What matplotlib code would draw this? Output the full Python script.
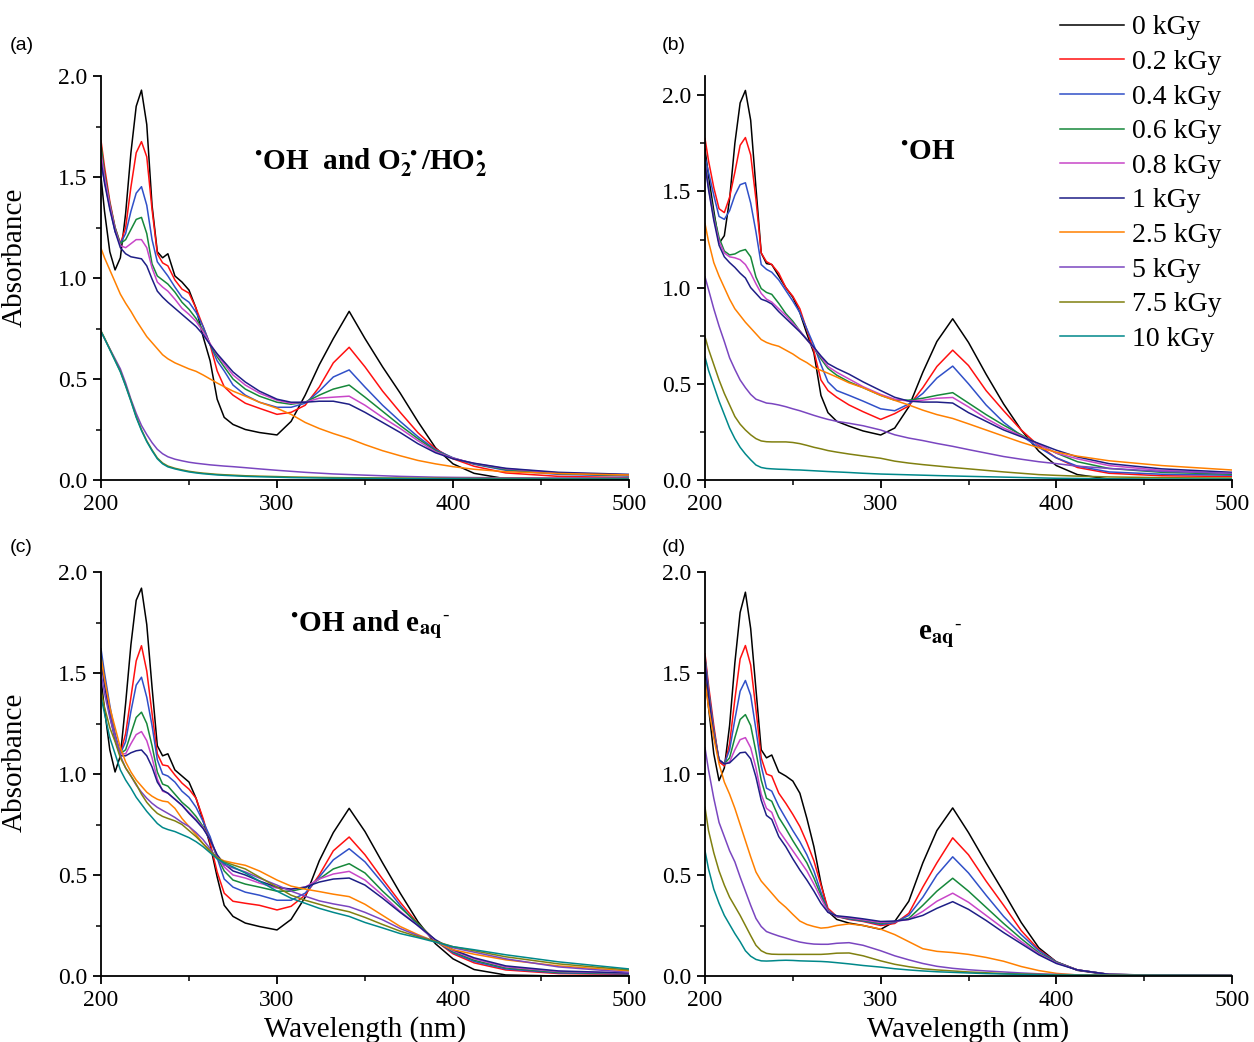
import matplotlib.pyplot as plt
from matplotlib.ticker import MultipleLocator

plt.rcParams['font.family'] = 'Liberation Serif'
plt.rcParams['mathtext.fontset'] = 'stix'

# wavelength grid (nm) shared by all curves
wavelength = [200, 202, 205, 208, 211, 214, 217, 220, 223, 226, 229, 232, 235, 238, 242,
              246, 250, 254, 258, 262, 266, 270, 275, 282, 290, 300, 308, 316, 324, 332,
              341, 350, 360, 370, 380, 390, 400, 412, 430, 460, 500]

doses = ['0 kGy', '0.2 kGy', '0.4 kGy', '0.6 kGy', '0.8 kGy', '1 kGy',
         '2.5 kGy', '5 kGy', '7.5 kGy', '10 kGy']
colors = ['#000000', '#ff1010', '#3050c8', '#16883a', '#c846c8', '#1e1e86',
          '#ff8000', '#7a46c0', '#808010', '#00888a']

# (a) OH and O2-/HO2
a_0 = [1.50, 1.33, 1.13, 1.04, 1.10, 1.32, 1.62, 1.85, 1.93, 1.76, 1.36, 1.13, 1.10, 1.12, 1.01,
       0.98, 0.94, 0.85, 0.71, 0.59, 0.40, 0.31, 0.275, 0.25, 0.235, 0.223, 0.29, 0.42, 0.57, 0.70,
       0.835, 0.70, 0.56, 0.43, 0.29, 0.16, 0.08, 0.033, 0.006, 0.0, 0.0]
a_02 = [1.68, 1.55, 1.38, 1.25, 1.17, 1.25, 1.45, 1.62, 1.675, 1.60, 1.34, 1.12, 1.075, 1.06, 0.99,
        0.945, 0.925, 0.85, 0.76, 0.67, 0.54, 0.462, 0.42, 0.38, 0.355, 0.325, 0.335, 0.37, 0.46, 0.58,
        0.657, 0.56, 0.44, 0.335, 0.235, 0.155, 0.105, 0.068, 0.035, 0.018, 0.012]
a_04 = [1.56, 1.48, 1.35, 1.23, 1.17, 1.22, 1.33, 1.42, 1.452, 1.36, 1.19, 1.08, 1.045, 1.01, 0.955,
        0.905, 0.88, 0.83, 0.76, 0.67, 0.59, 0.54, 0.47, 0.42, 0.385, 0.36, 0.36, 0.38, 0.44, 0.51,
        0.545, 0.46, 0.37, 0.29, 0.215, 0.15, 0.11, 0.078, 0.048, 0.028, 0.02]
a_06 = [1.66, 1.52, 1.37, 1.25, 1.17, 1.19, 1.24, 1.29, 1.30, 1.22, 1.07, 1.01, 0.99, 0.97, 0.93,
        0.88, 0.845, 0.80, 0.74, 0.67, 0.61, 0.56, 0.50, 0.45, 0.415, 0.385, 0.375, 0.385, 0.42, 0.45,
        0.47, 0.41, 0.34, 0.27, 0.205, 0.145, 0.108, 0.08, 0.052, 0.032, 0.022]
a_08 = [1.62, 1.50, 1.36, 1.24, 1.16, 1.15, 1.17, 1.19, 1.19, 1.15, 1.05, 0.98, 0.955, 0.935, 0.895,
        0.85, 0.82, 0.785, 0.735, 0.675, 0.62, 0.575, 0.52, 0.47, 0.43, 0.395, 0.38, 0.385, 0.405, 0.41,
        0.415, 0.37, 0.31, 0.255, 0.195, 0.14, 0.108, 0.082, 0.056, 0.035, 0.025]
a_1 = [1.58, 1.47, 1.34, 1.23, 1.15, 1.12, 1.105, 1.10, 1.095, 1.06, 0.995, 0.935, 0.905, 0.88, 0.85,
       0.82, 0.79, 0.76, 0.72, 0.67, 0.625, 0.585, 0.535, 0.485, 0.44, 0.40, 0.385, 0.385, 0.39, 0.39,
       0.375, 0.335, 0.285, 0.235, 0.18, 0.135, 0.105, 0.083, 0.058, 0.038, 0.028]
a_25 = [1.147, 1.10, 1.04, 0.98, 0.92, 0.875, 0.835, 0.79, 0.75, 0.71, 0.68, 0.65, 0.62, 0.60, 0.58,
        0.565, 0.55, 0.538, 0.52, 0.50, 0.48, 0.462, 0.44, 0.415, 0.385, 0.355, 0.325, 0.285, 0.255, 0.23,
        0.205, 0.175, 0.145, 0.12, 0.097, 0.08, 0.066, 0.053, 0.041, 0.032, 0.025]
a_5 = [0.735, 0.70, 0.65, 0.60, 0.55, 0.48, 0.40, 0.33, 0.27, 0.225, 0.185, 0.152, 0.13, 0.115, 0.103,
       0.095, 0.088, 0.083, 0.079, 0.075, 0.072, 0.069, 0.066, 0.061, 0.055, 0.048, 0.043, 0.038, 0.034, 0.03,
       0.027, 0.024, 0.021, 0.018, 0.016, 0.014, 0.013, 0.012, 0.011, 0.01, 0.01]
a_75 = [0.738, 0.703, 0.648, 0.593, 0.538, 0.468, 0.393, 0.314, 0.249, 0.194, 0.149, 0.109, 0.084, 0.069, 0.058,
        0.05, 0.043, 0.038, 0.034, 0.031, 0.028, 0.026, 0.024, 0.021, 0.019, 0.017, 0.015, 0.014, 0.013, 0.012,
        0.011, 0.011, 0.01, 0.01, 0.009, 0.009, 0.008, 0.008, 0.008, 0.007, 0.007]
a_10 = [0.735, 0.70, 0.645, 0.59, 0.535, 0.465, 0.39, 0.31, 0.245, 0.19, 0.145, 0.105, 0.08, 0.065, 0.055,
        0.047, 0.04, 0.035, 0.031, 0.028, 0.025, 0.023, 0.021, 0.018, 0.016, 0.014, 0.012, 0.011, 0.01, 0.009,
        0.009, 0.008, 0.008, 0.007, 0.007, 0.006, 0.006, 0.005, 0.005, 0.005, 0.005]

# (b) OH
b_0 = [1.72, 1.58, 1.40, 1.23, 1.27, 1.46, 1.75, 1.96, 2.025, 1.87, 1.52, 1.18, 1.125, 1.12, 1.06,
       1.0, 0.95, 0.87, 0.76, 0.66, 0.44, 0.35, 0.305, 0.28, 0.255, 0.234, 0.27, 0.38, 0.56, 0.72,
       0.838, 0.715, 0.55, 0.395, 0.26, 0.15, 0.075, 0.028, 0.005, 0.0, 0.0]
b_02 = [1.775, 1.66, 1.52, 1.41, 1.39, 1.47, 1.60, 1.74, 1.78, 1.69, 1.46, 1.18, 1.135, 1.12, 1.075,
        1.0, 0.955, 0.89, 0.78, 0.67, 0.52, 0.465, 0.43, 0.39, 0.355, 0.315, 0.345, 0.385, 0.48, 0.59,
        0.675, 0.595, 0.465, 0.36, 0.26, 0.178, 0.115, 0.065, 0.035, 0.022, 0.018]
b_04 = [1.68, 1.60, 1.48, 1.37, 1.355, 1.40, 1.48, 1.535, 1.545, 1.44, 1.29, 1.12, 1.095, 1.08, 1.04,
        0.985, 0.93, 0.87, 0.785, 0.70, 0.60, 0.51, 0.465, 0.44, 0.41, 0.37, 0.36, 0.395, 0.45, 0.53,
        0.592, 0.50, 0.39, 0.30, 0.23, 0.17, 0.115, 0.072, 0.042, 0.03, 0.025]
b_06 = [1.66, 1.53, 1.38, 1.26, 1.19, 1.17, 1.175, 1.19, 1.198, 1.16, 1.055, 0.995, 0.975, 0.965, 0.918,
        0.865, 0.825, 0.775, 0.73, 0.685, 0.63, 0.58, 0.545, 0.51, 0.48, 0.44, 0.415, 0.415, 0.425, 0.44,
        0.454, 0.40, 0.34, 0.285, 0.235, 0.185, 0.14, 0.095, 0.06, 0.04, 0.03]
b_08 = [1.65, 1.52, 1.36, 1.24, 1.18, 1.16, 1.155, 1.145, 1.12, 1.075, 1.02, 0.97, 0.94, 0.925, 0.89,
        0.855, 0.815, 0.775, 0.73, 0.685, 0.64, 0.59, 0.56, 0.525, 0.485, 0.445, 0.42, 0.41, 0.415, 0.425,
        0.429, 0.38, 0.32, 0.27, 0.23, 0.185, 0.14, 0.11, 0.075, 0.05, 0.035]
b_1 = [1.64, 1.51, 1.35, 1.22, 1.16, 1.13, 1.105, 1.075, 1.05, 1.0, 0.97, 0.94, 0.93, 0.915, 0.875,
       0.84, 0.805, 0.77, 0.73, 0.69, 0.645, 0.605, 0.58, 0.55, 0.51, 0.465, 0.43, 0.41, 0.405, 0.405,
       0.40, 0.35, 0.305, 0.26, 0.225, 0.19, 0.155, 0.12, 0.085, 0.058, 0.04]
b_25 = [1.333, 1.24, 1.13, 1.06, 1.0, 0.94, 0.89, 0.855, 0.82, 0.79, 0.76, 0.73, 0.715, 0.705, 0.695,
        0.675, 0.655, 0.63, 0.61, 0.585, 0.57, 0.555, 0.535, 0.505, 0.48, 0.44, 0.414, 0.39, 0.363, 0.34,
        0.32, 0.292, 0.26, 0.228, 0.196, 0.168, 0.145, 0.124, 0.10, 0.075, 0.052]
b_5 = [1.056, 0.99, 0.89, 0.80, 0.72, 0.635, 0.575, 0.52, 0.48, 0.445, 0.42, 0.41, 0.40, 0.397, 0.39,
       0.381, 0.37, 0.36, 0.348, 0.336, 0.325, 0.315, 0.305, 0.295, 0.282, 0.26, 0.235, 0.218, 0.205, 0.19,
       0.175, 0.158, 0.14, 0.122, 0.108, 0.095, 0.085, 0.072, 0.06, 0.045, 0.035]
b_75 = [0.745, 0.68, 0.60, 0.52, 0.45, 0.39, 0.33, 0.29, 0.26, 0.235, 0.215, 0.203, 0.199, 0.198, 0.198,
        0.198, 0.195, 0.189, 0.18, 0.17, 0.162, 0.153, 0.145, 0.135, 0.125, 0.113, 0.098, 0.088, 0.08, 0.073,
        0.065, 0.058, 0.05, 0.042, 0.035, 0.028, 0.024, 0.02, 0.016, 0.012, 0.01]
b_10 = [0.64, 0.57, 0.49, 0.41, 0.34, 0.27, 0.215, 0.17, 0.135, 0.105, 0.078, 0.065, 0.06, 0.058, 0.056,
        0.055, 0.053, 0.052, 0.05, 0.048, 0.046, 0.044, 0.042, 0.039, 0.035, 0.031, 0.029, 0.027, 0.025, 0.023,
        0.021, 0.019, 0.017, 0.015, 0.013, 0.011, 0.009, 0.008, 0.006, 0.005, 0.005]

# (c) OH and e_aq-
c_0 = [1.47, 1.32, 1.12, 1.01, 1.09, 1.35, 1.64, 1.86, 1.92, 1.74, 1.43, 1.14, 1.09, 1.10, 1.02,
       0.99, 0.96, 0.88, 0.77, 0.65, 0.49, 0.35, 0.295, 0.262, 0.245, 0.228, 0.28, 0.39, 0.57, 0.71,
       0.83, 0.715, 0.56, 0.41, 0.27, 0.16, 0.085, 0.032, 0.005, 0.0, 0.0]
c_02 = [1.58, 1.47, 1.32, 1.19, 1.10, 1.20, 1.38, 1.56, 1.635, 1.51, 1.30, 1.10, 1.045, 1.04, 0.995,
        0.955, 0.925, 0.88, 0.78, 0.66, 0.515, 0.41, 0.37, 0.36, 0.35, 0.327, 0.345, 0.40, 0.50, 0.62,
        0.688, 0.60, 0.48, 0.365, 0.26, 0.175, 0.11, 0.065, 0.03, 0.012, 0.008]
c_04 = [1.62, 1.50, 1.34, 1.20, 1.10, 1.16, 1.31, 1.44, 1.479, 1.38, 1.24, 1.07, 1.0, 0.99, 0.96,
        0.915, 0.885, 0.835, 0.765, 0.69, 0.585, 0.48, 0.44, 0.415, 0.40, 0.375, 0.375, 0.41, 0.49, 0.575,
        0.63, 0.565, 0.46, 0.35, 0.25, 0.175, 0.115, 0.072, 0.035, 0.015, 0.01]
c_06 = [1.58, 1.46, 1.31, 1.18, 1.10, 1.12, 1.20, 1.28, 1.306, 1.25, 1.14, 1.01, 0.95, 0.94, 0.90,
        0.86, 0.83, 0.79, 0.74, 0.675, 0.59, 0.52, 0.475, 0.455, 0.44, 0.42, 0.42, 0.435, 0.48, 0.53,
        0.556, 0.51, 0.42, 0.34, 0.26, 0.175, 0.12, 0.078, 0.04, 0.018, 0.012]
c_08 = [1.57, 1.45, 1.30, 1.18, 1.10, 1.10, 1.15, 1.195, 1.21, 1.165, 1.08, 0.975, 0.915, 0.905, 0.875,
        0.845, 0.81, 0.775, 0.735, 0.675, 0.595, 0.54, 0.50, 0.485, 0.46, 0.435, 0.43, 0.44, 0.48, 0.505,
        0.518, 0.475, 0.40, 0.32, 0.25, 0.175, 0.125, 0.085, 0.045, 0.022, 0.014]
c_1 = [1.56, 1.44, 1.29, 1.17, 1.09, 1.09, 1.105, 1.115, 1.119, 1.09, 1.035, 0.96, 0.92, 0.905, 0.875,
       0.845, 0.805, 0.77, 0.73, 0.675, 0.60, 0.555, 0.52, 0.50, 0.47, 0.44, 0.43, 0.44, 0.465, 0.48,
       0.485, 0.45, 0.385, 0.315, 0.25, 0.18, 0.13, 0.09, 0.05, 0.025, 0.015]
c_25 = [1.578, 1.47, 1.33, 1.23, 1.13, 1.06, 1.01, 0.97, 0.94, 0.91, 0.89, 0.875, 0.866, 0.862, 0.83,
        0.78, 0.74, 0.70, 0.655, 0.615, 0.585, 0.57, 0.56, 0.548, 0.52, 0.475, 0.445, 0.43, 0.418, 0.405,
        0.393, 0.355, 0.30, 0.245, 0.205, 0.17, 0.13, 0.108, 0.08, 0.05, 0.025]
c_5 = [1.50, 1.40, 1.28, 1.18, 1.09, 1.03, 0.99, 0.945, 0.91, 0.88, 0.855, 0.835, 0.82, 0.805, 0.785,
       0.76, 0.74, 0.71, 0.675, 0.63, 0.58, 0.55, 0.535, 0.515, 0.485, 0.45, 0.42, 0.395, 0.372, 0.357,
       0.343, 0.315, 0.278, 0.235, 0.20, 0.17, 0.14, 0.118, 0.085, 0.045, 0.018]
c_75 = [1.413, 1.33, 1.23, 1.16, 1.08, 1.03, 0.99, 0.95, 0.90, 0.86, 0.83, 0.805, 0.79, 0.78, 0.768,
        0.75, 0.72, 0.69, 0.655, 0.62, 0.585, 0.565, 0.55, 0.53, 0.49, 0.44, 0.40, 0.375, 0.355, 0.335,
        0.318, 0.29, 0.255, 0.222, 0.195, 0.172, 0.145, 0.125, 0.095, 0.06, 0.03]
c_10 = [1.38, 1.30, 1.18, 1.10, 1.02, 0.97, 0.93, 0.885, 0.85, 0.815, 0.785, 0.755, 0.735, 0.725, 0.715,
        0.70, 0.685, 0.665, 0.64, 0.61, 0.58, 0.56, 0.54, 0.51, 0.47, 0.42, 0.385, 0.36, 0.335, 0.315,
        0.295, 0.265, 0.238, 0.21, 0.19, 0.168, 0.145, 0.13, 0.105, 0.07, 0.035]

# (d) e_aq-
d_0 = [1.50, 1.33, 1.10, 0.967, 1.03, 1.24, 1.55, 1.80, 1.90, 1.72, 1.42, 1.12, 1.08, 1.094, 1.01,
       0.99, 0.965, 0.905, 0.78, 0.64, 0.46, 0.32, 0.28, 0.262, 0.25, 0.231, 0.27, 0.37, 0.56, 0.72,
       0.832, 0.71, 0.56, 0.415, 0.265, 0.14, 0.07, 0.028, 0.006, 0.002, 0.0]
d_02 = [1.595, 1.44, 1.24, 1.06, 1.04, 1.15, 1.37, 1.57, 1.636, 1.54, 1.32, 1.08, 1.0, 0.99, 0.905,
        0.855, 0.80, 0.74, 0.66, 0.57, 0.45, 0.335, 0.295, 0.28, 0.27, 0.25, 0.26, 0.31, 0.44, 0.56,
        0.684, 0.60, 0.47, 0.35, 0.225, 0.13, 0.07, 0.03, 0.008, 0.003, 0.002]
d_04 = [1.58, 1.42, 1.22, 1.07, 1.05, 1.12, 1.27, 1.41, 1.463, 1.39, 1.22, 1.04, 0.93, 0.915, 0.84,
        0.78, 0.72, 0.665, 0.60, 0.52, 0.415, 0.325, 0.295, 0.282, 0.272, 0.255, 0.265, 0.30, 0.39, 0.50,
        0.59, 0.51, 0.40, 0.295, 0.205, 0.125, 0.07, 0.03, 0.008, 0.003, 0.002]
d_06 = [1.57, 1.41, 1.21, 1.07, 1.05, 1.08, 1.18, 1.27, 1.294, 1.24, 1.11, 0.97, 0.88, 0.865, 0.785,
        0.73, 0.67, 0.615, 0.56, 0.485, 0.40, 0.32, 0.295, 0.285, 0.275, 0.26, 0.27, 0.285, 0.35, 0.42,
        0.484, 0.42, 0.34, 0.26, 0.185, 0.115, 0.068, 0.03, 0.008, 0.004, 0.003]
d_08 = [1.56, 1.40, 1.20, 1.07, 1.05, 1.06, 1.12, 1.17, 1.18, 1.13, 1.03, 0.90, 0.83, 0.81, 0.72,
        0.67, 0.62, 0.57, 0.52, 0.455, 0.385, 0.318, 0.295, 0.288, 0.278, 0.265, 0.27, 0.28, 0.32, 0.37,
        0.41, 0.365, 0.30, 0.235, 0.17, 0.11, 0.065, 0.03, 0.008, 0.004, 0.003]
d_1 = [1.55, 1.39, 1.19, 1.07, 1.05, 1.055, 1.08, 1.105, 1.108, 1.075, 0.985, 0.87, 0.795, 0.775, 0.69,
       0.64, 0.58, 0.525, 0.475, 0.42, 0.36, 0.315, 0.298, 0.292, 0.283, 0.27, 0.272, 0.28, 0.30, 0.335,
       0.368, 0.33, 0.275, 0.215, 0.16, 0.105, 0.062, 0.03, 0.008, 0.004, 0.003]
d_25 = [1.46, 1.33, 1.18, 1.05, 0.96, 0.90, 0.83, 0.75, 0.67, 0.59, 0.515, 0.47, 0.44, 0.41, 0.37,
        0.34, 0.305, 0.272, 0.255, 0.245, 0.237, 0.24, 0.25, 0.258, 0.25, 0.232, 0.205, 0.17, 0.135, 0.122,
        0.116, 0.107, 0.092, 0.073, 0.047, 0.027, 0.013, 0.005, 0.003, 0.002, 0.002]
d_5 = [1.13, 1.02, 0.88, 0.76, 0.69, 0.62, 0.565, 0.49, 0.42, 0.35, 0.285, 0.245, 0.22, 0.21, 0.198,
       0.188, 0.177, 0.168, 0.162, 0.158, 0.157, 0.157, 0.162, 0.165, 0.152, 0.125, 0.10, 0.08, 0.062, 0.048,
       0.038, 0.031, 0.025, 0.02, 0.015, 0.011, 0.008, 0.006, 0.004, 0.003, 0.002]
d_75 = [0.835, 0.72, 0.61, 0.52, 0.45, 0.39, 0.345, 0.30, 0.25, 0.20, 0.152, 0.125, 0.112, 0.108, 0.107,
        0.107, 0.107, 0.107, 0.107, 0.107, 0.107, 0.109, 0.113, 0.114, 0.10, 0.075, 0.058, 0.046, 0.036, 0.03,
        0.025, 0.02, 0.016, 0.012, 0.01, 0.008, 0.006, 0.005, 0.004, 0.003, 0.002]
d_10 = [0.62, 0.53, 0.43, 0.36, 0.30, 0.255, 0.21, 0.17, 0.125, 0.098, 0.082, 0.075, 0.074, 0.075, 0.077,
        0.078, 0.077, 0.075, 0.074, 0.073, 0.072, 0.07, 0.066, 0.06, 0.052, 0.044, 0.036, 0.03, 0.025, 0.021,
        0.018, 0.015, 0.012, 0.01, 0.008, 0.006, 0.005, 0.004, 0.003, 0.003, 0.002]

panel_a = [a_0, a_02, a_04, a_06, a_08, a_1, a_25, a_5, a_75, a_10]
panel_b = [b_0, b_02, b_04, b_06, b_08, b_1, b_25, b_5, b_75, b_10]
panel_c = [c_0, c_02, c_04, c_06, c_08, c_1, c_25, c_5, c_75, c_10]
panel_d = [d_0, d_02, d_04, d_06, d_08, d_1, d_25, d_5, d_75, d_10]

W, H = 1254, 1042
fig = plt.figure(figsize=(W / 100, H / 100), dpi=100)

# axes rectangles from pixel positions: left, right, bottom, top
boxes = [(101, 629, 480, 76), (705, 1232, 480, 76), (101, 629, 976, 572), (705, 1232, 976, 572)]
panels = [panel_a, panel_b, panel_c, panel_d]
ytops = [2.0, 2.1, 2.0, 2.0]
tags = ['(a)', '(b)', '(c)', '(d)']
tag_pos = [(10, 45), (662, 45), (10, 548), (662, 548)]
hy = '\u2010'  # short hyphen for the charge sign
notes = [r'$^{\bullet}$OH  and O$_{\mathbf{2}}^{' + hy + r'\bullet}$/HO$_{\mathbf{2}}^{\bullet}$',
         r'$^{\bullet}$OH',
         r'$^{\bullet}$OH and e$_{\mathbf{aq}}$$^{' + hy + '}$',
         r'e$_{\mathbf{aq}}$$^{' + hy + '}$']
note_pos = [(353, 1.57), (327, 1.71), (353, 1.74), (334, 1.68)]

axes = []
for i, (l, r, b, t) in enumerate(boxes):
    ax = fig.add_axes([l / W, 1 - b / H, (r - l) / W, (b - t) / H])
    axes.append(ax)
    for values, color, dose in zip(panels[i], colors, doses):
        ax.plot(wavelength, values, color=color, lw=1.1, label=dose)
    ax.set_xlim(200, 500)
    ax.set_ylim(0, ytops[i])
    ax.xaxis.set_major_locator(MultipleLocator(100))
    ax.xaxis.set_minor_locator(MultipleLocator(50))
    ax.yaxis.set_major_locator(MultipleLocator(0.5))
    ax.yaxis.set_minor_locator(MultipleLocator(0.25))
    ax.yaxis.set_major_formatter(plt.FormatStrFormatter('%.1f'))
    ax.xaxis.set_major_formatter(plt.FormatStrFormatter('%d'))
    ax.spines['top'].set_visible(False)
    ax.spines['right'].set_visible(False)
    for s in ['left', 'bottom']:
        ax.spines[s].set_linewidth(1.3)
    ax.tick_params(which='major', direction='out', length=6, width=1.3, labelsize=17, pad=4)
    ax.tick_params(which='minor', direction='out', length=3.5, width=1.1)
    ax.text(note_pos[i][0], note_pos[i][1], notes[i], fontsize=21, fontweight='bold',
            ha='center', va='center')
    fig.text(tag_pos[i][0] / W, 1 - tag_pos[i][1] / H, tags[i], fontsize=14,
             family='Liberation Sans', ha='left', va='center')

axes[0].set_ylabel('Absorbance', fontsize=21)
axes[0].yaxis.set_label_coords(-0.138, 0.55)
axes[2].set_ylabel('Absorbance', fontsize=21)
axes[2].yaxis.set_label_coords(-0.138, 0.53)
for ax in (axes[2], axes[3]):
    ax.set_xlabel('Wavelength (nm)', fontsize=21, labelpad=4)

handles, labels = axes[0].get_legend_handles_labels()
fig.legend(handles, labels, loc='upper left', bbox_to_anchor=(1060 / W, 1 - 15 / H),
           frameon=False, fontsize=20, handlelength=2.3, handletextpad=0.3,
           labelspacing=0.33, borderpad=0, borderaxespad=0)

fig.savefig('out.png', dpi=100)
